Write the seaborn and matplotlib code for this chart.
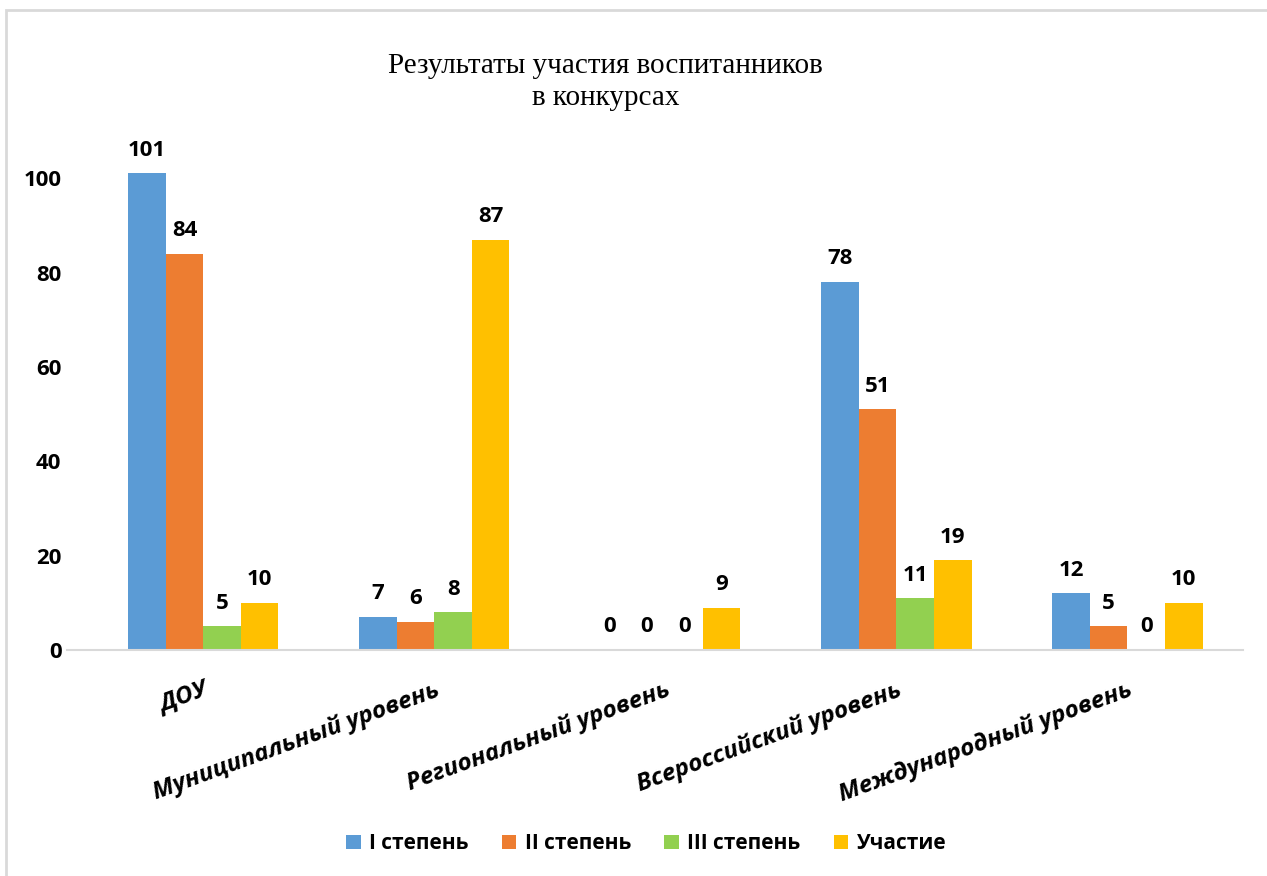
import pandas as pd
import matplotlib.pyplot as plt
import seaborn as sns
from matplotlib.patches import Rectangle, Patch

# Chart data
categories = ['ДОУ', 'Муниципальный уровень', 'Региональный уровень',
              'Всероссийский уровень', 'Международный уровень']
series_names = ['I степень', 'II степень', 'III степень', 'Участие']
first_degree = [101, 7, 0, 78, 12]
second_degree = [84, 6, 0, 51, 5]
third_degree = [5, 8, 0, 11, 0]
participation = [10, 87, 9, 19, 10]
colors = ['#5B9BD5', '#ED7D31', '#92D050', '#FFC000']

values = [first_degree, second_degree, third_degree, participation]
rows = []
for name, vals in zip(series_names, values):
    for cat, v in zip(categories, vals):
        rows.append({'category': cat, 'series': name, 'value': v})
df = pd.DataFrame(rows)

sns.set_style('white')
plt.rcParams['font.family'] = ['Open Sans', 'DejaVu Sans']
plt.rcParams['text.color'] = 'black'
plt.rcParams['xtick.color'] = 'black'
plt.rcParams['ytick.color'] = 'black'

fig = plt.figure(figsize=(12.67, 8.76), dpi=100)
# light frame around chart area
fig.patches.append(Rectangle((6 / 1267, -0.1), 1.2, (876 - 10) / 876 + 0.1,
                             transform=fig.transFigure, fill=False,
                             edgecolor='#D9D9D9', linewidth=2))

ax = fig.add_axes([67 / 1267, 226 / 876, 1176 / 1267, 519 / 876])
sns.barplot(data=df, x='category', y='value', hue='series', palette=colors,
            width=0.65, linewidth=0, saturation=1, ax=ax, legend=False)

for cont in ax.containers:
    ax.bar_label(cont, padding=9, fontsize=16, fontweight='bold', color='black')

ax.set_ylim(0, 110)
ax.set_yticks([0, 20, 40, 60, 80, 100])
ax.set_xlim(-0.59, 4.5)
ax.set_xlabel('')
ax.set_ylabel('')
for s in ['top', 'right', 'left']:
    ax.spines[s].set_visible(False)
ax.spines['bottom'].set_color('#D9D9D9')
ax.spines['bottom'].set_linewidth(1.5)
ax.tick_params(axis='both', length=0)
ax.tick_params(axis='y', pad=4, labelsize=16)
for lab in ax.get_yticklabels():
    lab.set_fontweight('bold')
ax.set_xticks(range(len(categories)))
ax.set_xticklabels(categories, rotation=20, ha='right', rotation_mode='anchor',
                   fontsize=17.5, fontweight='bold', fontstyle='italic')
ax.tick_params(axis='x', pad=20)

fig.text(0.478, 0.906, 'Результаты участия воспитанников\nв конкурсах',
         ha='center', va='center', fontsize=21, family='Liberation Serif',
         linespacing=1.3)

handles = [Patch(facecolor=c, edgecolor='none') for c in colors]
fig.legend(handles, series_names, loc='center', bbox_to_anchor=(0.51, 0.037),
           ncol=4, frameon=False, handlelength=0.7, handleheight=0.7,
           handletextpad=0.4, columnspacing=1.6,
           prop={'size': 15, 'weight': 'bold'})

fig.savefig('out.png', dpi=100)
